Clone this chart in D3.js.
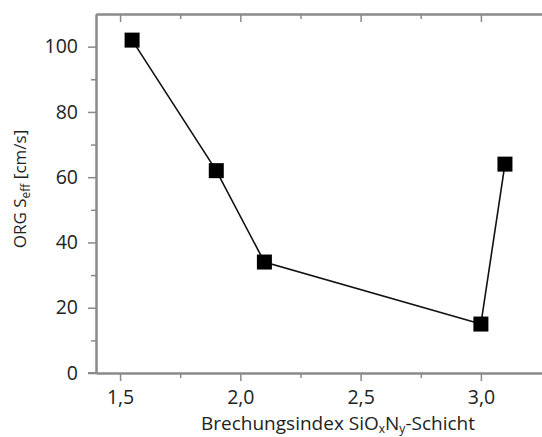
<!DOCTYPE html>
<html>
<head>
<meta charset="utf-8">
<script src="https://cdn.jsdelivr.net/npm/d3@7"></script>
<style>
  body { margin: 0; background: #fff; }
  text { font-family: "Open Sans", sans-serif; fill: #222; }
</style>
</head>
<body>
<script>
// Brechungsindex vs. ORG S_eff
var brechungsindex = [1.55, 1.9, 2.1, 3.0, 3.1];
var seff = [102, 62, 34, 15, 64];
var xTicks = [1.5, 2.0, 2.5, 3.0];
var xMinor = [1.75, 2.25, 2.75];
var yTicks = [0, 20, 40, 60, 80, 100];
var yMinor = [10, 30, 50, 70, 90];

var width = 542, height = 437;
var padL = 96, padT = 14, padB = 373, padR = 542;

var svg = d3.select("body").append("svg")
    .attr("width", width)
    .attr("height", height);

var x = d3.scaleLinear().domain([1.4, 3.254]).range([padL, padR]);
var y = d3.scaleLinear().domain([0, 110]).range([padB, padT]);

var fmt = function(d) { return d3.format(".1f")(d).replace(".", ","); };
var axisColor = "#8a8a8a";

// bottom axis
svg.append("g")
    .attr("transform", "translate(0," + padB + ")")
    .call(d3.axisBottom(x).tickValues(xTicks).tickFormat(fmt).tickSize(8).tickSizeOuter(0).tickPadding(9));
svg.append("g")
    .attr("transform", "translate(0," + padB + ")")
    .call(d3.axisBottom(x).tickValues(xMinor).tickFormat("").tickSize(5).tickSizeOuter(0));

// top axis, ticks inward
svg.append("g")
    .attr("transform", "translate(0," + padT + ")")
    .call(d3.axisTop(x).tickValues(xTicks).tickFormat("").tickSize(-8).tickSizeOuter(0));
svg.append("g")
    .attr("transform", "translate(0," + padT + ")")
    .call(d3.axisTop(x).tickValues(xMinor).tickFormat("").tickSize(-5).tickSizeOuter(0));

// left axis
svg.append("g")
    .attr("transform", "translate(" + padL + ",0)")
    .call(d3.axisLeft(y).tickValues(yTicks).tickSize(8).tickSizeOuter(0).tickPadding(10));
svg.append("g")
    .attr("transform", "translate(" + padL + ",0)")
    .call(d3.axisLeft(y).tickValues(yMinor).tickFormat("").tickSize(5).tickSizeOuter(0));

svg.selectAll(".domain").attr("stroke", axisColor).attr("stroke-width", 2);
svg.selectAll(".tick line").attr("stroke", axisColor).attr("stroke-width", 1.5);
svg.selectAll(".tick text").style("font-size", "19.5px").attr("fill", "#222");

// extend bottom line slightly to the left
svg.append("line")
    .attr("x1", padL - 8).attr("x2", padL)
    .attr("y1", padB).attr("y2", padB)
    .attr("stroke", axisColor).attr("stroke-width", 2);

// data line
var pts = brechungsindex.map(function(d, i) { return [d, seff[i]]; });
svg.append("path")
    .datum(pts)
    .attr("fill", "none")
    .attr("stroke", "#111")
    .attr("stroke-width", 1.6)
    .attr("d", d3.line().x(function(d) { return x(d[0]); }).y(function(d) { return y(d[1]); }));

var s = 15;
svg.selectAll("rect.pt")
    .data(pts)
    .enter().append("rect")
    .attr("class", "pt")
    .attr("x", function(d) { return x(d[0]) - s / 2; })
    .attr("y", function(d) { return y(d[1]) - s / 2; })
    .attr("width", s)
    .attr("height", s)
    .attr("fill", "#000");

// axis titles
var xt = svg.append("text")
    .attr("x", 338)
    .attr("y", 430)
    .attr("text-anchor", "middle")
    .style("font-size", "19px");
xt.append("tspan").text("Brechungsindex SiO");
xt.append("tspan").attr("dy", 3).style("font-size", "12px").text("x");
xt.append("tspan").attr("dy", -3).text("N");
xt.append("tspan").attr("dy", 3).style("font-size", "12px").text("y");
xt.append("tspan").attr("dy", -3).text("-Schicht");

var yt = svg.append("text")
    .attr("transform", "translate(26,189) rotate(-90)")
    .attr("text-anchor", "middle")
    .style("font-size", "17px");
yt.append("tspan").text("ORG S");
yt.append("tspan").attr("dy", 4).style("font-size", "12px").text("eff");
yt.append("tspan").attr("dy", -4).text(" [cm/s]");
</script>
</body>
</html>
